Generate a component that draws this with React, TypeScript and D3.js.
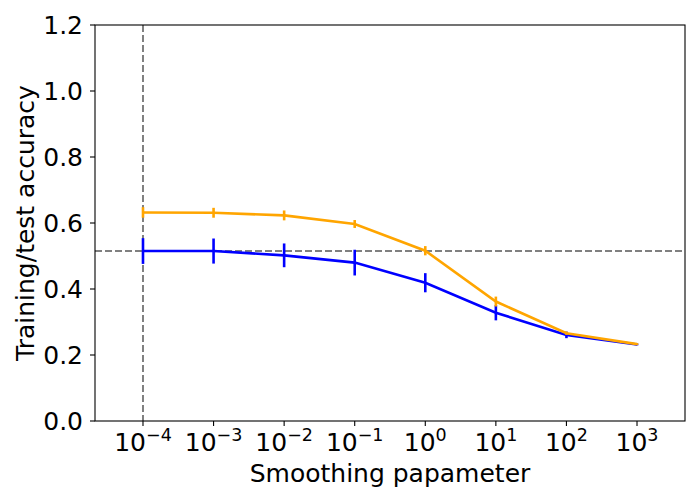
import { useEffect, useRef } from 'react';
import * as d3 from 'd3';

const smoothing = [1e-4, 1e-3, 1e-2, 1e-1, 1e0, 1e1, 1e2, 1e3];
const exponents = [-4, -3, -2, -1, 0, 1, 2, 3];
const trainAcc = [0.632, 0.631, 0.623, 0.597, 0.516, 0.362, 0.266, 0.233];
const trainErr = [0.016, 0.015, 0.015, 0.012, 0.014, 0.015, 0.005, 0.003];
const testAcc = [0.515, 0.515, 0.502, 0.48, 0.419, 0.328, 0.261, 0.232];
const testErr = [0.039, 0.038, 0.036, 0.039, 0.029, 0.023, 0.01, 0.003];
const yTicks = [0.0, 0.2, 0.4, 0.6, 0.8, 1.0, 1.2];
const baseline = 0.515;

const App = () => {
  const svgRef = useRef<SVGSVGElement>(null);

  useEffect(() => {
    if (!svgRef.current) return;
    const svg = d3.select(svgRef.current);
    svg.selectAll('*').remove();

    const left = 95, right = 685, top = 25, bottom = 421;
    const font = 'DejaVu Sans, sans-serif';
    const fs = 25;

    const x = d3.scaleLog().domain([Math.pow(10, -4.68), Math.pow(10, 3.68)]).range([left, right]);
    const y = d3.scaleLinear().domain([0, 1.2]).range([bottom, top]);

    // dashed reference lines
    svg.append('line')
      .attr('x1', left).attr('x2', right)
      .attr('y1', y(baseline)).attr('y2', y(baseline))
      .attr('stroke', 'gray').attr('stroke-width', 2).attr('stroke-dasharray', '7,3');
    svg.append('line')
      .attr('x1', x(smoothing[0])).attr('x2', x(smoothing[0]))
      .attr('y1', top).attr('y2', bottom)
      .attr('stroke', 'gray').attr('stroke-width', 2).attr('stroke-dasharray', '7,3');

    const series = [
      { vals: testAcc, errs: testErr, color: 'blue' },
      { vals: trainAcc, errs: trainErr, color: 'orange' },
    ];

    series.forEach(s => {
      const line = d3.line<number>()
        .x((_, i) => x(smoothing[i]))
        .y(d => y(d));
      svg.append('path')
        .datum(s.vals)
        .attr('d', line)
        .attr('fill', 'none')
        .attr('stroke', s.color)
        .attr('stroke-width', 2.6);
      s.vals.forEach((v, i) => {
        svg.append('line')
          .attr('x1', x(smoothing[i])).attr('x2', x(smoothing[i]))
          .attr('y1', y(v - s.errs[i])).attr('y2', y(v + s.errs[i]))
          .attr('stroke', s.color).attr('stroke-width', 2.6);
      });
    });

    // frame
    svg.append('rect')
      .attr('x', left).attr('y', top)
      .attr('width', right - left).attr('height', bottom - top)
      .attr('fill', 'none').attr('stroke', 'black').attr('stroke-width', 1.1);

    // y ticks
    yTicks.forEach(t => {
      svg.append('line')
        .attr('x1', left - 5).attr('x2', left)
        .attr('y1', y(t)).attr('y2', y(t))
        .attr('stroke', 'black').attr('stroke-width', 1.1);
      svg.append('text')
        .attr('x', left - 12).attr('y', y(t))
        .attr('text-anchor', 'end').attr('dominant-baseline', 'central')
        .attr('font-family', font).attr('font-size', fs)
        .text(t.toFixed(1));
    });

    // x ticks
    smoothing.forEach((v, i) => {
      const px = x(v);
      svg.append('line')
        .attr('x1', px).attr('x2', px)
        .attr('y1', bottom).attr('y2', bottom + 5)
        .attr('stroke', 'black').attr('stroke-width', 1.1);
      const t = svg.append('text')
        .attr('x', px).attr('y', 451)
        .attr('text-anchor', 'middle')
        .attr('font-family', font).attr('font-size', fs);
      t.append('tspan').text('10');
      t.append('tspan')
        .attr('dy', -10).attr('font-size', 17.5)
        .text(exponents[i] < 0 ? '\u2212' + Math.abs(exponents[i]) : String(exponents[i]));
    });

    svg.append('text')
      .attr('x', (left + right) / 2).attr('y', 482)
      .attr('text-anchor', 'middle')
      .attr('font-family', font).attr('font-size', fs)
      .text('Smoothing papameter');

    svg.append('text')
      .attr('transform', `translate(34,${(top + bottom) / 2}) rotate(-90)`)
      .attr('text-anchor', 'middle')
      .attr('font-family', font).attr('font-size', fs)
      .text('Training/test accuracy');
  }, []);

  return (
    <svg
      ref={svgRef}
      width={700}
      height={500}
      style={{ position: 'absolute', left: 0, top: 0, background: 'white' }}
    />
  );
};

export default App;
